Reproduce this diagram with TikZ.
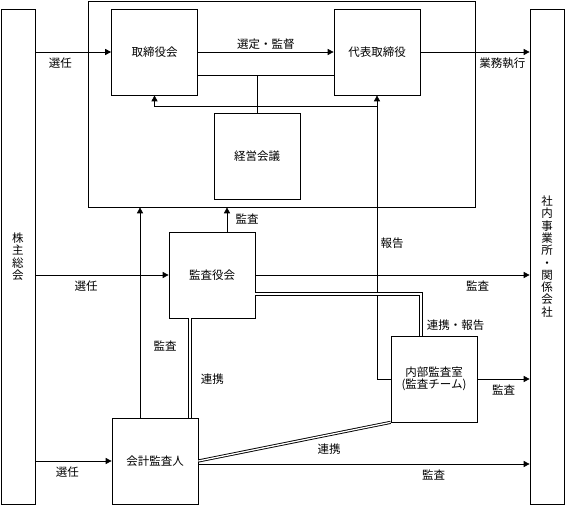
\documentclass[tikz,border=0pt]{standalone}
\usepackage{fontspec}
\setmainfont{Noto Sans CJK JP}
\usetikzlibrary{arrows.meta}

\tikzset{
  link/.style={double,double distance=1.3pt,line width=0.9pt}
}

\begin{document}
\begin{tikzpicture}[x=1pt,y=-1pt,line width=0.7pt,
    font=\fontsize{11.5}{12.3}\selectfont,
    >={Triangle[length=6pt,width=6pt]}]

  \useasboundingbox (0,0) rectangle (565,505);

  % board of directors frame
  \node[draw,minimum width=387,minimum height=206] (board) at (281.5,104) {};

  \begin{scope}[every node/.style={draw,minimum width=86,minimum height=86,inner sep=0,align=center}]
    \node (tori)   at (154.5,52)  {取締役会};
    \node (daihyo) at (377,52)    {代表取締役};
    \node (keiei)  at (257,156.5) {経営会議};
    \node (kansa)  at (212,275)   {監査役会};
    \node (naibu)  at (434,379)   {内部監査室\\(監査チーム)};
    \node (kaikei) at (155,461)   {会計監査人};
  \end{scope}

  \begin{scope}[every node/.style={draw,minimum width=34,minimum height=495,inner sep=0,align=center}]
    \node (kabu)   at (18,256.5)  {株\\主\\総\\会};
    \node (shanai) at (547,256.5) {社\\内\\事\\業\\所\\・\\関\\係\\会\\社};
  \end{scope}

  \coordinate (mid) at ([yshift=-23pt]tori.east);
  \coordinate (fb) at (0,106);
  \coordinate (kout) at ([yshift=-3pt]kaikei.east);

  % inside the board
  \draw[->] (tori.east) -- node[above=-1pt] {選定・監督} (daihyo.west);
  \draw (mid) -- (daihyo.west |- mid);
  \draw (keiei.north) -- (keiei.north |- mid);
  \draw[->] (naibu.west) -| node[right,pos=.74] {報告} (daihyo.south);
  \draw[->] (daihyo.south |- fb) -| (tori.south);
  \draw[->] (daihyo.east) -- node[below=2pt,pos=.75] {業務執行} (shanai.west |- daihyo.east);

  % elections
  \draw[->] (kabu.east |- tori.west) -- node[below=2pt,pos=.33] {選任} (tori.west);
  \draw[->] (kabu.east |- kansa.west) -- node[below=2pt,pos=.38] {選任} (kansa.west);
  \draw[->] (kabu.east |- kaikei.west) -- node[below=2pt,pos=.42] {選任} (kaikei.west);

  % audits
  \draw[->] ([xshift=15pt]kansa.north) -- node[right=5pt] {監査} ([xshift=15pt]kansa.north |- board.south);
  \draw[->] ([xshift=-15pt]kaikei.north) -- node[right=10pt,pos=.34] {監査} ([xshift=-15pt]kaikei.north |- board.south);
  \draw[->] (kansa.east) -- node[below=2pt,pos=.81] {監査} (shanai.west |- kansa.east);
  \draw[->] (naibu.east) -- node[below=2pt] {監査} (shanai.west |- naibu.east);
  \draw[->] (kout) -- node[below=2pt,pos=.71] {監査} (shanai.west |- kout);

  % cooperation
  \draw[link] ([yshift=-19pt]kansa.east) -| node[right=2pt,pos=.87] {連携・報告} ([xshift=-13pt]naibu.north);
  \draw[link] ([xshift=-22pt]kansa.south) -- node[right=7pt,pos=.61] {連携} ([xshift=-22pt]kansa.south |- kaikei.north);
  \draw[link] (kaikei.east) -- node[below=5pt,pos=.68] {連携} (naibu.south west);

\end{tikzpicture}
\end{document}
